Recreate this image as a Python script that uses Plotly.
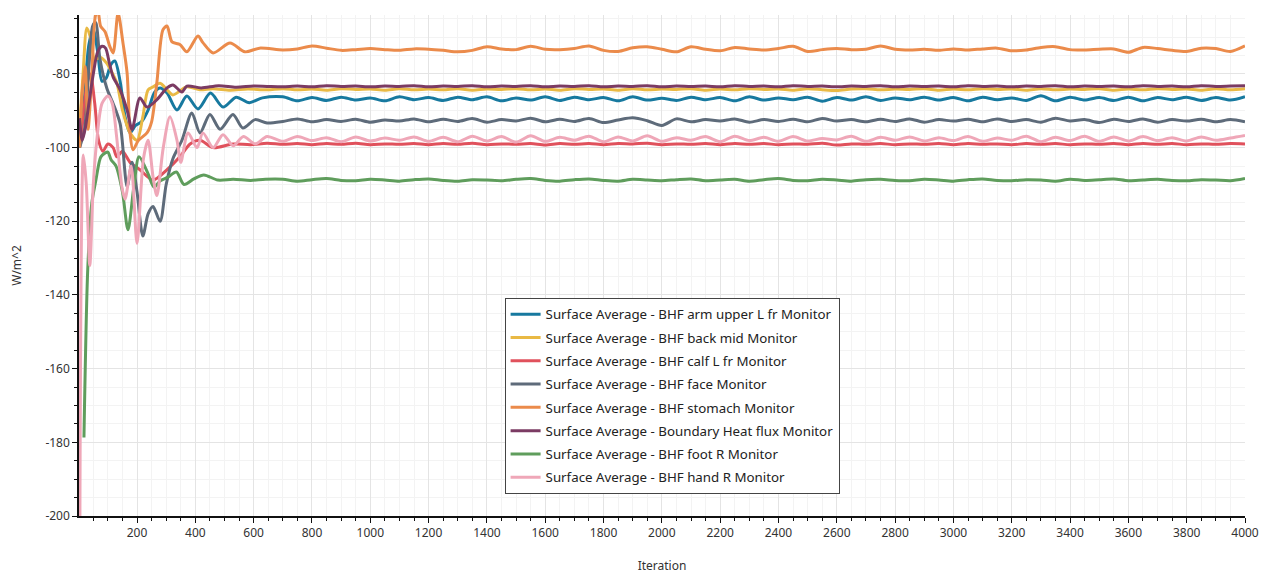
import plotly.graph_objects as go

# ---- series names / colours -------------------------------------------------
NAMES = [
    "Surface Average - BHF arm upper L fr Monitor",
    "Surface Average - BHF back mid Monitor",
    "Surface Average - BHF calf L fr Monitor",
    "Surface Average - BHF face Monitor",
    "Surface Average - BHF stomach Monitor",
    "Surface Average - Boundary Heat flux Monitor",
    "Surface Average - BHF foot R Monitor",
    "Surface Average - BHF hand R Monitor",
]
COLORS = ["#17799f", "#e9b944", "#e0515c", "#5e6b7a",
          "#eb8b4b", "#7b3b63", "#5f9d5c", "#efa7b8"]

Y_TICKS = [-200, -180, -160, -140, -120, -100, -80]
Y_LABELS = ["-200", "-180", "-160", "-140", "-120", "-100", "-80"]

# ---- early transient (iteration, value) -------------------------------------
ARM_IT = [3, 18, 35, 50, 65, 80, 95, 110, 124, 142, 160, 176, 195, 215, 238, 260,
          279, 303, 337, 371, 409, 452, 495, 540, 585, 630]
ARM_Y = [-100, -88, -72, -68, -74, -82, -81, -77.5, -76.5, -82, -92, -96, -94, -93,
         -89.8, -85, -83.8, -85.2, -89.8, -86, -89.5, -85.2, -89, -86.3, -87.8, -86.5]

BACK_IT = [3, 15, 28, 40, 55, 75, 95, 110, 131, 150, 176, 200, 220, 238, 255, 279,
           303, 323, 371, 416, 460, 520, 580, 646]
BACK_Y = [-95, -80, -67.5, -70, -76, -75.5, -77, -79, -82.5, -89.8, -96, -98, -91.6,
          -84.3, -83.5, -82.5, -84.3, -85.7, -83.5, -84.3, -84, -84.4, -84.1, -84.3]

CALF_IT = [3, 15, 28, 40, 55, 68, 83, 100, 118, 131, 150, 176, 210, 255, 303, 347,
           382, 416, 461, 529, 590, 646]
CALF_Y = [-100, -92, -83, -80, -88, -98, -101, -99, -100, -102.5, -101, -104, -106,
          -108.8, -106, -102.5, -99, -98, -100, -99, -99.2, -98.8]

FACE_IT = [3, 20, 35, 48, 58, 73, 97, 118, 142, 166, 183, 200, 220, 238, 255, 279,
           300, 323, 354, 388, 416, 450, 485, 529, 563, 605, 646]
FACE_Y = [-100, -95, -78, -67, -66, -76, -84, -88, -93.5, -110.6, -104, -112, -124,
          -118, -116, -120, -110, -103, -98, -90.6, -96, -91, -95, -91, -94.7, -92.4,
          -93.3]

STOM_IT = [3, 12, 22, 32, 45, 58, 66, 75, 90, 107, 118, 135, 152, 166, 176, 186, 205,
           234, 250, 268, 289, 303, 320, 347, 371, 409, 426, 461, 519, 570, 620]
STOM_Y = [-100, -85, -78, -95, -80, -64, -63, -67, -68.5, -72.6, -74.3, -63.5, -71.7,
          -79.8, -96, -100.6, -98, -96, -93, -82.4, -68, -67, -71.3, -72, -74, -69.7,
          -71.5, -74.3, -71.6, -74, -73]

BND_IT = [3, 12, 22, 35, 50, 65, 80, 92, 105, 118, 142, 166, 183, 210, 234, 268, 303,
          323, 354, 371, 420, 480, 540, 600, 646]
BND_Y = [-92, -98, -95, -88, -80, -74, -72.5, -73, -77, -80.8, -84.3, -89.8, -95,
         -86.5, -89, -87, -83.8, -83, -84.9, -83.3, -83.8, -83.2, -83.6, -83.3, -83.4]

FOOT_IT = [18, 31, 45, 59, 70, 76, 90, 100, 111, 128, 150, 169, 190, 207, 237, 258,
           280, 306, 335, 361, 395, 429, 477, 530, 590, 640]
FOOT_Y = [-178.7, -133, -115, -108.8, -104, -102.5, -101.5, -101.2, -103.3, -105,
          -112, -122.3, -110, -102.5, -106.9, -110.7, -109, -108, -106.6, -110, -108.5,
          -107.4, -108.8, -108.6, -108.9, -108.6]

HAND_IT = [4, 16, 26, 38, 50, 62, 80, 100, 115, 130, 148, 159, 180, 200, 222, 238,
           255, 268, 290, 313, 337, 350, 375, 406, 426, 461, 495, 530, 565, 605, 646]
HAND_Y = [-205, -102, -110, -132, -110, -98, -88, -86, -88, -97, -110.6, -114, -105,
          -126, -103, -98, -108, -113, -100, -91.6, -98, -104, -96, -100, -96, -100,
          -96.5, -99.5, -97, -99, -97]

# ---- settled part, every 50 iterations from 700 to 4000 ---------------------
STEADY_IT = list(range(700, 4001, 50))

ARM_S = [-86.2, -87.3, -86.4, -87.2, -86.3, -87.1, -86.5, -87.3, -86.2, -87.0,
         -86.4, -87.2, -86.3, -87.0, -86.2, -87.3, -86.5, -87.1, -86.2, -87.2,
         -86.3, -87.0, -86.4, -87.3, -86.2, -87.1, -86.6, -87.2, -86.3, -87.0,
         -86.4, -87.3, -86.2, -87.1, -86.5, -87.0, -86.3, -87.4, -86.4, -87.1,
         -86.2, -87.2, -86.5, -87.0, -86.3, -87.1, -86.4, -87.3, -86.3, -87.0,
         -86.5, -87.2, -85.9, -87.3, -86.3, -87.1, -86.4, -87.2, -86.3, -87.3,
         -86.4, -87.0, -86.3, -87.2, -86.4, -87.1, -86.2]
BACK_S = [-84.0, -84.3, -84.1, -84.4, -84.0, -84.2, -84.1, -84.4, -84.0, -84.3,
          -84.1, -84.3, -84.0, -84.4, -84.1, -84.2, -84.0, -84.3, -84.1, -84.4,
          -84.0, -84.2, -84.1, -84.4, -84.0, -84.3, -84.1, -84.2, -84.0, -84.4,
          -84.1, -84.3, -84.0, -84.2, -84.1, -84.4, -84.0, -84.3, -84.5, -84.1,
          -84.0, -84.3, -84.1, -84.2, -84.0, -84.4, -84.1, -84.3, -84.0, -84.2,
          -84.1, -84.4, -84.0, -84.3, -84.1, -84.2, -84.0, -84.4, -84.1, -84.3,
          -84.0, -84.2, -84.1, -84.4, -84.0, -84.3, -84.0]
CALF_S = [-99.1, -98.9, -99.2, -98.9, -99.1, -98.8, -99.2, -99.0, -99.1, -98.9,
          -99.2, -98.9, -99.1, -98.8, -99.2, -99.0, -99.1, -98.9, -99.3, -98.9,
          -99.1, -98.9, -99.2, -98.9, -99.0, -98.8, -99.2, -99.0, -99.1, -98.9,
          -99.2, -98.9, -99.1, -98.9, -99.2, -99.0, -99.1, -98.8, -99.3, -99.0,
          -99.1, -98.9, -99.2, -99.0, -99.1, -98.9, -99.2, -98.9, -99.1, -99.0,
          -99.2, -98.9, -99.1, -98.9, -99.2, -99.0, -99.1, -98.9, -99.2, -98.9,
          -99.1, -98.9, -99.2, -99.0, -99.1, -98.9, -99.0]
FACE_S = [-92.9, -92.2, -93.0, -92.4, -92.9, -92.3, -93.1, -92.5, -92.8, -92.2,
          -93.0, -92.3, -92.9, -92.1, -93.1, -92.4, -92.8, -92.0, -93.0, -92.3,
          -92.9, -92.1, -93.2, -92.5, -91.9, -92.7, -94.0, -92.2, -93.0, -92.4,
          -92.8, -92.2, -93.1, -92.4, -92.9, -92.3, -93.0, -92.1, -92.8, -92.4,
          -93.0, -92.3, -92.9, -92.2, -93.1, -92.4, -92.8, -92.3, -93.0, -92.2,
          -92.9, -92.4, -93.1, -92.0, -92.8, -92.4, -93.2, -92.3, -92.9, -92.2,
          -93.1, -92.4, -92.8, -92.3, -93.0, -92.4, -93.0]
STOM_S = [-73.5, -73.2, -72.4, -73.0, -73.6, -73.4, -73.1, -73.4, -73.6, -73.2,
          -73.3, -73.6, -74.0, -73.6, -72.6, -73.2, -73.4, -72.5, -73.3, -73.4,
          -73.1, -72.4, -73.6, -73.9, -72.9, -72.6, -73.3, -74.0, -72.6, -73.3,
          -73.7, -72.8, -73.2, -73.5, -73.1, -72.5, -73.9, -73.4, -73.1, -73.4,
          -73.3, -72.4, -73.3, -73.5, -73.3, -73.6, -73.2, -73.5, -73.2, -73.0,
          -73.7, -73.5, -72.8, -72.6, -73.4, -73.5, -73.3, -73.2, -74.1, -72.8,
          -73.1, -73.6, -73.9, -73.0, -73.1, -73.9, -72.4]
BND_S = [-83.5, -83.3, -83.5, -83.2, -83.4, -83.3, -83.5, -83.3, -83.4, -83.2,
         -83.5, -83.3, -83.4, -83.2, -83.5, -83.3, -83.4, -83.2, -83.5, -83.3,
         -83.4, -83.2, -83.5, -83.3, -83.4, -83.2, -83.5, -83.3, -83.4, -83.3,
         -83.5, -83.2, -83.4, -83.3, -83.5, -83.2, -83.4, -83.3, -83.5, -83.3,
         -83.4, -83.2, -83.5, -83.3, -83.4, -83.3, -83.5, -83.2, -83.4, -83.3,
         -83.5, -83.3, -83.4, -83.2, -83.5, -83.3, -83.4, -83.3, -83.5, -83.2,
         -83.4, -83.3, -83.5, -83.2, -83.4, -83.3, -83.2]
FOOT_S = [-108.6, -109.1, -108.7, -108.4, -108.9, -109.0, -108.6, -108.8, -109.1, -108.7,
          -108.5, -108.9, -109.1, -108.7, -108.8, -109.0, -108.6, -108.4, -108.9, -109.1,
          -108.7, -108.5, -108.9, -109.1, -108.6, -108.8, -109.0, -108.7, -108.5, -109.0,
          -108.8, -108.6, -109.1, -108.7, -108.4, -108.9, -109.0, -108.6, -108.8, -109.1,
          -108.7, -108.6, -108.9, -109.0, -108.6, -108.8, -109.1, -108.7, -108.5, -108.9,
          -109.0, -108.7, -108.8, -109.1, -108.6, -108.9, -108.7, -108.5, -109.0, -108.8,
          -108.6, -108.9, -109.0, -108.7, -108.8, -109.0, -108.4]
HAND_S = [-98.3, -97.0, -98.1, -97.3, -98.4, -97.1, -98.2, -97.4, -98.0, -97.1,
          -98.3, -97.2, -98.4, -96.9, -98.2, -97.0, -98.5, -96.8, -98.3, -97.2,
          -98.0, -96.9, -98.4, -97.1, -98.2, -96.8, -98.3, -97.3, -98.0, -97.0,
          -98.4, -96.9, -98.1, -97.2, -98.3, -97.0, -98.2, -97.5, -97.9, -96.9,
          -98.3, -97.2, -98.0, -97.1, -98.2, -97.3, -98.1, -97.0, -98.3, -97.4,
          -98.0, -96.9, -98.4, -97.2, -98.1, -96.9, -98.3, -97.1, -98.2, -97.0,
          -98.1, -97.3, -98.2, -97.1, -98.0, -97.4, -96.7]

SERIES = [
    (ARM_IT, ARM_Y, ARM_S),
    (BACK_IT, BACK_Y, BACK_S),
    (CALF_IT, CALF_Y, CALF_S),
    (FACE_IT, FACE_Y, FACE_S),
    (STOM_IT, STOM_Y, STOM_S),
    (BND_IT, BND_Y, BND_S),
    (FOOT_IT, FOOT_Y, FOOT_S),
    (HAND_IT, HAND_Y, HAND_S),
]

FONT = "Noto Sans, Open Sans, sans-serif"

fig = go.Figure()
for i, (name, color, (it, early, steady)) in enumerate(zip(NAMES, COLORS, SERIES)):
    fig.add_trace(go.Scatter(
        x=it + STEADY_IT, y=early + steady, name=name, mode="lines",
        line=dict(color=color, width=3, shape="spline", smoothing=0.8),
        legendgroup=f"g{i}",
    ))

axis_common = dict(
    showline=True, linecolor="#111", linewidth=1.5, mirror=False,
    ticks="outside", ticklen=5, tickcolor="#111", tickwidth=1,
    showgrid=True, gridcolor="#e4e4e4", gridwidth=1, zeroline=False,
    tickfont=dict(family=FONT, size=12, color="#333"),
    automargin=False,
)
fig.update_xaxes(
    range=[1, 4000], tick0=0, dtick=200,
    minor=dict(dtick=50, tick0=0, ticks="outside", ticklen=3, tickcolor="#111",
               showgrid=True, gridcolor="#f3f3f3"),
    title=dict(text="Iteration", font=dict(family=FONT, size=12, color="#333"), standoff=28),
    **axis_common,
)
fig.update_yaxes(
    range=[-200, -64], tickmode="array", tickvals=Y_TICKS, ticktext=Y_LABELS,
    minor=dict(dtick=5, tick0=0, ticks="outside", ticklen=3, tickcolor="#111",
               showgrid=True, gridcolor="#f3f3f3"),
    title=dict(text="W/m^2", font=dict(family=FONT, size=12, color="#333"), standoff=24),
    **axis_common,
)
# page body has an 8px margin, so the figure is sized/offset to compensate
fig.update_layout(
    width=1260, height=566,
    paper_bgcolor="white", plot_bgcolor="white",
    margin=dict(l=71, r=23, t=7, b=58),
    font=dict(family=FONT, size=12, color="#333"),
    showlegend=True,
    legend=dict(
        x=0.365, y=0.435, xanchor="left", yanchor="top",
        bgcolor="white", bordercolor="#444", borderwidth=1,
        font=dict(family=FONT, size=13.3, color="#222"),
        tracegroupgap=3,
    ),
)

fig.write_html("out.html")
